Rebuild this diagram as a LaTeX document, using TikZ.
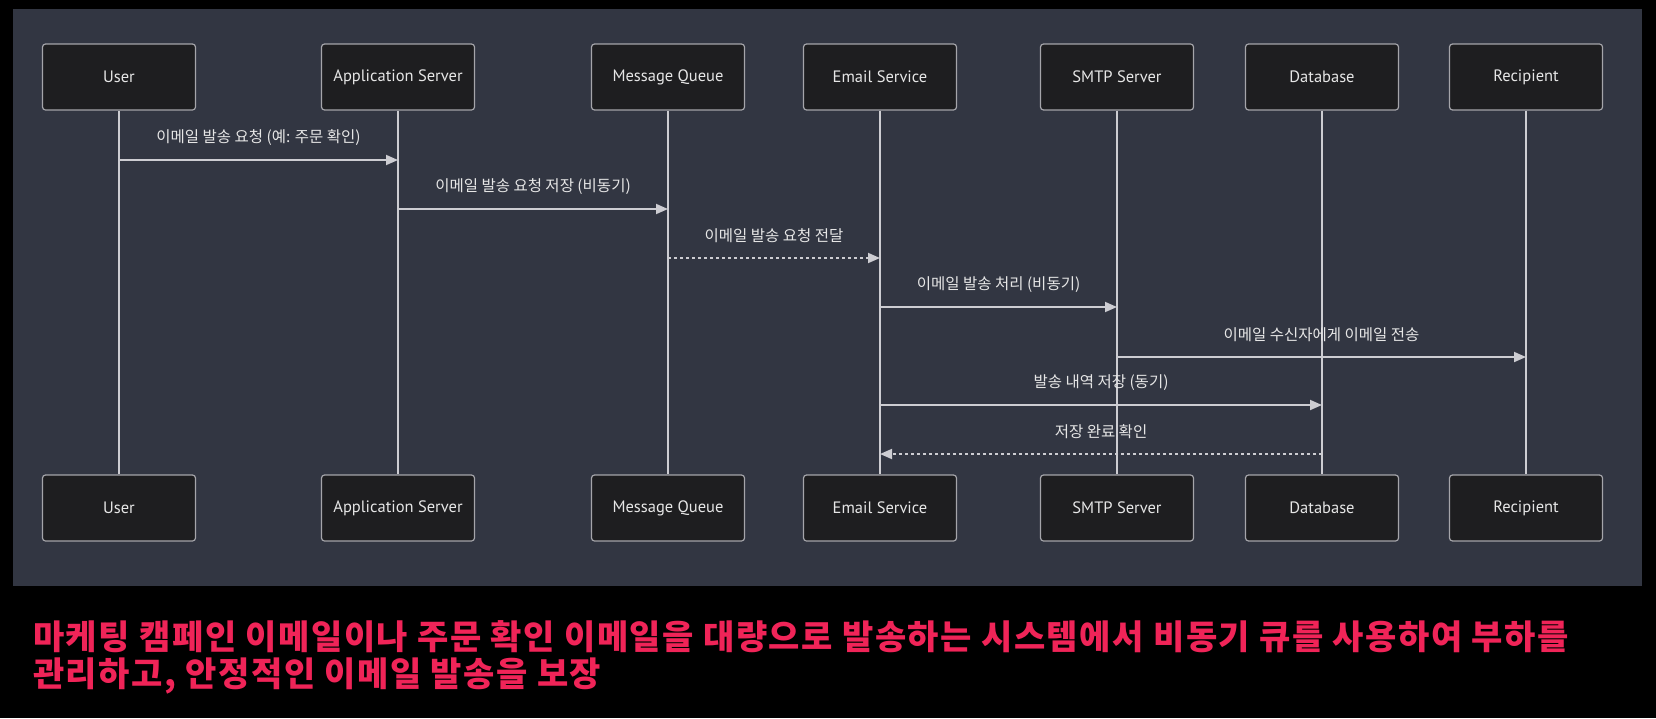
\documentclass[tikz,border=0pt]{standalone}
\usepackage{fontspec}
\setmainfont{PT Sans}
\newfontfamily\krfont{Noto Sans CJK KR}
\newfontfamily\krcapfont{Noto Sans CJK KR}[LetterSpace=4.5]
\usetikzlibrary{arrows.meta}
\definecolor{panelbg}{RGB}{50,54,66}
\definecolor{boxfill}{RGB}{30,30,32}
\definecolor{boxline}{RGB}{165,165,170}
\definecolor{lineclr}{RGB}{205,205,210}
\definecolor{textclr}{RGB}{230,230,230}
\definecolor{capred}{RGB}{240,36,88}
\tikzset{
  actor/.style={
    draw=boxline,
    fill=boxfill,
    line width=1.2pt,
    rounded corners=3pt,
    minimum width=153pt,
    minimum height=66pt,
    inner sep=0pt,
    text=textclr,
    font=\fontsize{16.5}{18}\selectfont
  },
  lifeline/.style={draw=lineclr, line width=1.8pt},
  msg/.style={
    draw=lineclr,
    line width=1.8pt,
    -{Triangle[length=12pt,width=10pt]}
  },
  async/.style={msg, dash pattern=on 3pt off 3pt},
  msglabel/.style={
    text=textclr,
    yshift=22pt,
    font=\krfont\fontsize{15.5}{17}\selectfont
  },
  caption/.style={
    text=capred,
    align=left,
    inner sep=0pt,
    font=\krcapfont\bfseries\fontsize{34}{37}\selectfont
  }
}
\newcommand{\panelframe}{%
  \useasboundingbox (0,0) rectangle (1656,718);
  \fill[black] (0,0) rectangle (1656,718);
  \fill[panelbg] (13,9) rectangle (1642,586);
}

\begin{document}
\begin{tikzpicture}[x=1pt,y=-1pt]
  \panelframe
  % participants, top and bottom, with lifelines
  \foreach \id/\x/\name in {user/119/User, app/398/Application Server,
      mq/668/Message Queue, email/880/Email Service, smtp/1117/SMTP Server,
      db/1322/Database, rcpt/1526/Recipient} {
    \node[actor] (\id-top) at (\x,77) {\name};
    \node[actor] (\id-bot) at (\x,508) {\name};
    \draw[lifeline] (\id-top) -- (\id-bot);
  }
  % messages
  \foreach \i/\y/\from/\to/\kind/\txt in {
      1/160/user/app/msg/이메일 발송 요청 (예: 주문 확인),
      2/209/app/mq/msg/이메일 발송 요청 저장 (비동기),
      3/258/mq/email/async/이메일 발송 요청 전달,
      4/307/email/smtp/msg/이메일 발송 처리 (비동기),
      5/357/smtp/rcpt/msg/이메일 수신자에게 이메일 전송,
      6/405/email/db/msg/발송 내역 저장 (동기),
      7/454/db/email/async/저장 완료 확인} {
    \coordinate (row\i) at (0,\y);
    \draw[\kind] (\from-top |- row\i) -- (\to-top |- row\i)
      node[msglabel, midway] {\txt};
  }
  \node[caption, anchor=base west] (note) at (33,686)
    {마케팅 캠페인 이메일이나 주문 확인 이메일을 대량으로 발송하는 시스템에서 비동기 큐를 사용하여 부하를\\
     관리하고, 안정적인 이메일 발송을 보장};
\end{tikzpicture}
\end{document}
